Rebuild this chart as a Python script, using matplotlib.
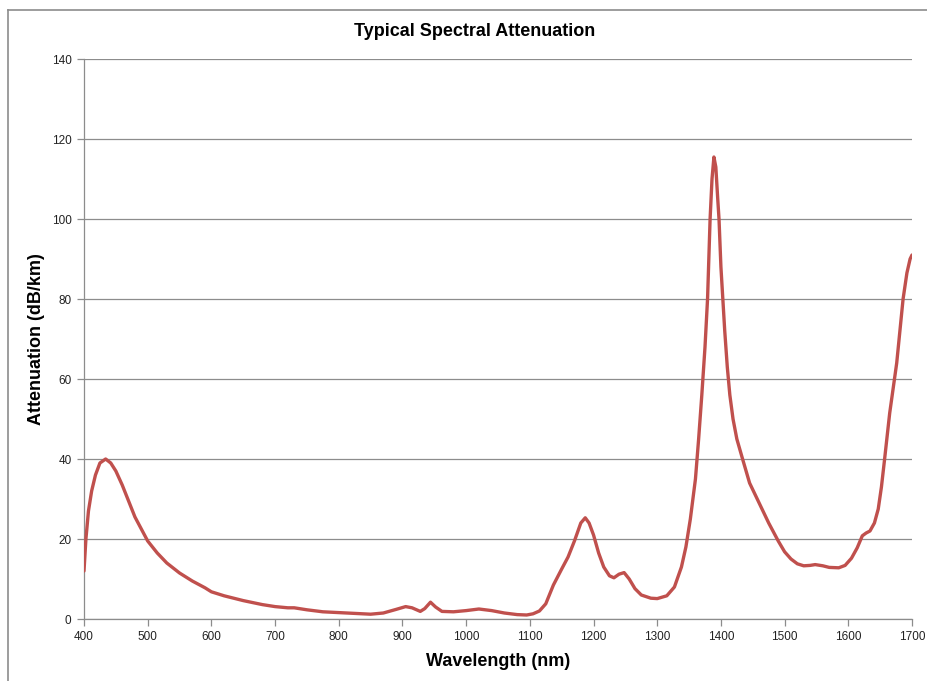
import matplotlib
matplotlib.use("Agg")
import matplotlib.pyplot as plt
from matplotlib.lines import Line2D

title = "Typical Spectral Attenuation"
x_label = "Wavelength (nm)"
y_label = "Attenuation (dB/km)"

wavelength = [400, 403, 407, 412, 418, 425, 434, 442, 450, 460, 470, 480, 490, 500,
              515, 530, 550, 570, 590, 600, 620, 650, 680, 700, 720, 730, 750, 775,
              800, 825, 850, 870, 890, 905, 915, 928, 935, 944, 952, 962, 980, 1000,
              1020, 1040, 1060, 1080, 1095, 1105, 1115, 1125, 1137, 1150, 1160, 1170,
              1180, 1187, 1193, 1200, 1208, 1216, 1225, 1232, 1240, 1248, 1256, 1265,
              1275, 1290, 1300, 1315, 1327, 1338, 1345, 1352, 1360, 1365, 1370, 1375,
              1379, 1383, 1386, 1389, 1392, 1395, 1397, 1400, 1403, 1406, 1410, 1414,
              1419, 1425, 1434, 1445, 1460, 1475, 1490, 1500, 1510, 1520, 1530, 1540,
              1548, 1560, 1570, 1585, 1595, 1605, 1614, 1622, 1628, 1634, 1641, 1647,
              1652, 1657, 1665, 1676, 1686, 1692, 1697, 1700]
attenuation = [12, 20, 27, 32, 36, 39, 40, 39, 37, 33.5, 29.5, 25.5, 22.5, 19.5,
               16.5, 14, 11.5, 9.5, 7.8, 6.8, 5.8, 4.6, 3.6, 3.1, 2.8, 2.8, 2.3, 1.8,
               1.6, 1.4, 1.2, 1.5, 2.4, 3.1, 2.8, 1.9, 2.6, 4.2, 3.0, 1.9, 1.8, 2.1,
               2.5, 2.1, 1.5, 1.1, 1.0, 1.3, 2.0, 3.8, 8.5, 12.5, 15.5, 19.5,
               24, 25.3, 24, 21, 16.5, 13, 10.8, 10.3, 11.2, 11.6, 10, 7.6,
               6, 5.2, 5.1, 5.8, 8, 13, 18, 25, 35, 45, 56, 68,
               80, 100, 110, 115.5, 113, 105, 100, 88, 80, 72, 63, 56,
               50, 45, 40, 34, 29, 24, 19.5, 16.8, 15, 13.8, 13.3, 13.4,
               13.6, 13.3, 12.9, 12.8, 13.4, 15.2, 17.8, 20.8, 21.5, 22, 24, 27.5,
               33, 40, 51.5, 64, 80, 86.5, 90, 91]

x_ticks = list(range(400, 1701, 100))
y_ticks = list(range(0, 141, 20))

plt.rcParams['font.family'] = ['Liberation Sans', 'DejaVu Sans']

fig = plt.figure(figsize=(9.28, 6.81), dpi=100)
fig.patch.set_facecolor('white')

# chart-area border (left and top edges visible)
fig.add_artist(Line2D([8/928, 8/928], [0, 1 - 10/681], transform=fig.transFigure,
                      color='#8c8c8c', lw=1.2))
fig.add_artist(Line2D([8/928, 1], [1 - 10/681, 1 - 10/681], transform=fig.transFigure,
                      color='#8c8c8c', lw=1.2))

ax = fig.add_axes([84/928, 1 - 619/681, (912 - 84)/928, (619 - 59)/681])
ax.plot(wavelength, attenuation, color='#C0504D', lw=2.4, solid_joinstyle='round',
        solid_capstyle='round', zorder=3)

ax.set_xlim(400, 1700)
ax.set_ylim(0, 140)
ax.set_xticks(x_ticks)
ax.set_yticks(y_ticks)
ax.grid(axis='y', color='#8c8c8c', lw=0.9)
ax.set_axisbelow(True)

for s in ['top', 'right']:
    ax.spines[s].set_visible(False)
for s in ['left', 'bottom']:
    ax.spines[s].set_color('#8c8c8c')
    ax.spines[s].set_linewidth(0.9)

ax.tick_params(axis='both', direction='out', length=5, width=0.9, color='#8c8c8c',
               labelsize=8.5, labelcolor='#222222', pad=4)

ax.set_xlabel(x_label, fontsize=13, fontweight='bold', labelpad=7)
ax.set_ylabel(y_label, fontsize=13, fontweight='bold', labelpad=5)
fig.text(475/928, 1 - 32/681, title, ha='center', va='center', fontsize=13,
         fontweight='bold')

fig.savefig('out.png', dpi=100)
